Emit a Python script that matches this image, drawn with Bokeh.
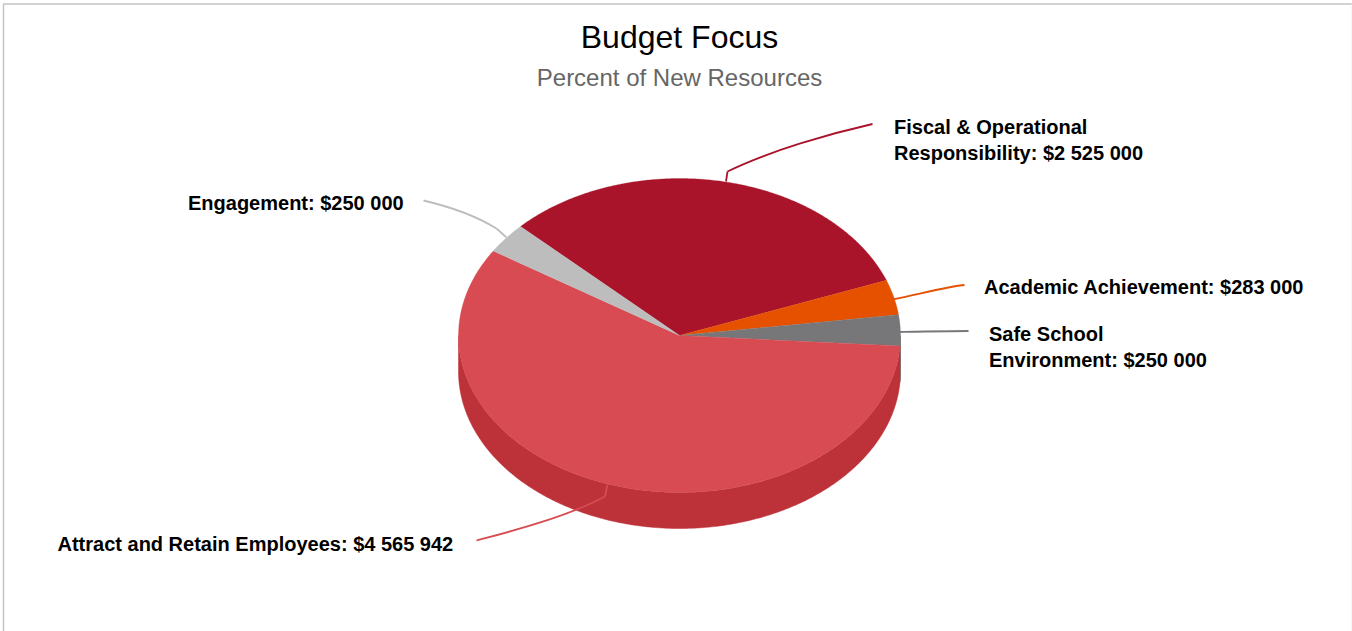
import numpy as np
from bokeh.plotting import figure
from bokeh.models import Range1d
from bokeh.core.properties import value
from bokeh.embed import file_html
from bokeh.resources import INLINE

title = "Budget Focus"
subtitle = "Percent of New Resources"
categories = ["Fiscal & Operational Responsibility", "Academic Achievement",
              "Safe School Environment", "Attract and Retain Employees", "Engagement"]
amounts = [2525000, 283000, 250000, 4565942, 250000]
top_colors = ["#A9142B", "#E65100", "#77777A", "#D84B52", "#BDBDBD"]
side_colors = ["#8F0A20", "#C93F00", "#606063", "#BD3138", "#A3A3A3"]

W, H = 1352, 631
CX, CY, RX, RY, DEPTH = 679.0, 335.0, 221.0, 157.0, 36.0
START_DEG = -46.0

p = figure(width=W, height=H, x_range=Range1d(0, W), y_range=Range1d(H, 0),
           output_backend="svg", toolbar_location=None, min_border=0,
           x_axis_location=None, y_axis_location=None,
           background_fill_color="white", border_fill_color="white")
p.grid.visible = False
p.outline_line_color = None

# frame
p.line([3, 3, W - 0.5], [H, 3.5, 3.5], line_color="#C4C4C4", line_width=1.5)
p.line([W - 0.5, W - 0.5], [3.5, H], line_color="#EDEDED", line_width=1)


def rim(a0, a1, dy=0.0):
    t = np.radians(np.linspace(a0, a1, max(int(abs(a1 - a0) * 2), 2)))
    return CX + RX * np.sin(t), CY + dy - RY * np.cos(t)


total = sum(amounts)
edges = START_DEG + np.concatenate([[0], np.cumsum(amounts)]) / total * 360.0

# side walls (only the front half of the rim shows)
for i, c in enumerate(side_colors):
    a0, a1 = max(edges[i], 90.0), min(edges[i + 1], 270.0)
    if a1 <= a0:
        continue
    x0, y0 = rim(a0, a1)
    x1, y1 = rim(a0, a1, DEPTH)
    p.patch(np.r_[x0, x1[::-1]], np.r_[y0, y1[::-1]], fill_color=c, line_color=c, line_width=0.5)

# top slices
for i, c in enumerate(top_colors):
    x, y = rim(edges[i], edges[i + 1])
    p.patch(np.r_[CX, x], np.r_[CY, y], fill_color=c, line_color=c, line_width=0.3)

# connectors: short stub from the slice, then a curve out to the label
connectors = [
    ((725.5, 181), (727, 171), (872, 123.5), (770, 150), (830, 133), top_colors[0]),
    ((892, 299), (892, 299), (964, 284.5), (925, 292), (950, 285.5), top_colors[1]),
    ((899, 331.5), (899, 331.5), (968, 330.5), (925, 331), (950, 330.5), top_colors[2]),
    ((607, 484), (604.5, 496), (476, 540), (565, 517), (510, 531), top_colors[3]),
    ((506, 237), (496, 228), (423, 200), (470, 212), (440, 204), top_colors[4]),
]
for a, b, e, c0, c1, c in connectors:
    p.line([a[0], b[0]], [a[1], b[1]], line_color=c, line_width=1.8)
    p.bezier(x0=[b[0]], y0=[b[1]], x1=[e[0]], y1=[e[1]], cx0=[c0[0]], cy0=[c0[1]], cx1=[c1[0]], cy1=[c1[1]],
             line_color=c, line_width=1.8)

FONT = value("Liberation Sans")
p.text([679], [36], text=[title], text_font=FONT, text_font_size="32px",
       text_color="#000000", text_align="center", text_baseline="alphabetic")
p.text([679], [77], text=[subtitle], text_font=FONT, text_font_size="24px",
       text_color="#666666", text_align="center", text_baseline="alphabetic")

label_lines = ["Fiscal & Operational", "Responsibility: $2 525 000",
               "Academic Achievement: $283 000", "Safe School", "Environment: $250 000",
               "Attract and Retain Employees: $4 565 942", "Engagement: $250 000"]
label_x = [893.5, 893.5, 983.5, 988.5, 988.5, 57, 187.5]
label_y = [126, 152, 286, 333, 359, 543, 202]
p.text(label_x, label_y, text=label_lines, text_font=FONT, text_font_size="20px",
       text_font_style="bold", text_color="#000000", text_align="left", text_baseline="alphabetic")

open("out.html", "w").write(file_html(p, INLINE))
